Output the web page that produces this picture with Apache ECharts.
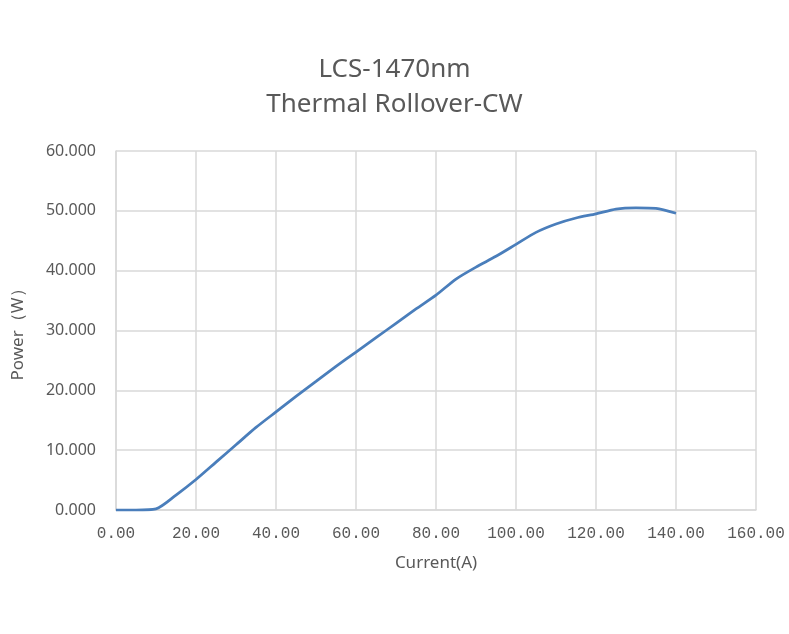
<!DOCTYPE html>
<html>
<head>
<meta charset="utf-8">
<title>LCS-1470nm Thermal Rollover-CW</title>
<script src="https://cdn.jsdelivr.net/npm/echarts@6/dist/echarts.min.js"></script>
<style>
    html, body { margin: 0; padding: 0; background: #fff; }
    #chart { width: 789px; height: 634px; }
</style>
</head>
<body>
<div id="chart"></div>
<script>
// 电流 (A)
var current = [0, 5, 10, 15, 20, 25, 30, 35, 40, 45, 50, 55, 60, 65, 70,
    75, 80, 85, 90, 95, 100, 105, 110, 115, 120, 125, 130, 135, 140];
// 功率 (W)
var power = [0, 0, 0.2, 2.5, 5.1, 8.0, 10.9, 13.8, 16.4, 19.0, 21.5, 24.0, 26.4, 28.8, 31.2,
    33.6, 35.9, 38.6, 40.6, 42.4, 44.4, 46.4, 47.8, 48.8, 49.5, 50.3, 50.5, 50.4, 49.6];

(function () {
    var data = current.map(function (c, i) {
        return [c, power[i]];
    });

    var textColor = '#595959';
    var gridColor = '#d9d9d9';

    var option = {
        backgroundColor: '#fff',
        animation: false,
        title: {
            text: 'LCS-1470nm\nThermal Rollover-CW',
            left: 'center',
            top: 47,
            textStyle: {
                fontFamily: 'Noto Sans',
                fontSize: 26,
                fontWeight: 'normal',
                color: textColor,
                lineHeight: 35
            }
        },
        grid: {
            left: 116,
            right: 33,
            top: 151,
            bottom: 124
        },
        xAxis: {
            type: 'value',
            min: 0,
            max: 160,
            interval: 20,
            name: 'Current(A)',
            nameLocation: 'middle',
            nameGap: 45,
            nameTextStyle: {
                fontFamily: 'Noto Sans',
                fontSize: 17,
                color: textColor
            },
            axisLine: { show: true, lineStyle: { color: gridColor, width: 1.5 } },
            axisTick: { show: false },
            splitLine: { show: true, lineStyle: { color: gridColor, width: 1.5 } },
            axisLabel: {
                margin: 16,
                fontFamily: 'Liberation Mono',
                fontSize: 16,
                color: textColor,
                formatter: function (v) { return v.toFixed(2); }
            }
        },
        yAxis: {
            type: 'value',
            min: 0,
            max: 60,
            interval: 10,
            name: 'Power（W）',
            nameLocation: 'middle',
            nameGap: 89,
            nameTextStyle: {
                fontFamily: 'Noto Sans',
                fontSize: 17,
                color: textColor
            },
            axisLine: { show: true, lineStyle: { color: gridColor, width: 1.5 } },
            axisTick: { show: false },
            splitLine: { show: true, lineStyle: { color: gridColor, width: 1.5 } },
            axisLabel: {
                margin: 20,
                fontFamily: 'Noto Sans',
                fontSize: 16,
                color: textColor,
                formatter: function (v) { return v.toFixed(3); }
            }
        },
        series: [
            {
                name: 'Power',
                type: 'line',
                data: data,
                smooth: 0.25,
                showSymbol: false,
                lineStyle: { color: '#4a7ebb', width: 2.75 }
            }
        ]
    };

    var myChart = echarts.init(document.getElementById('chart'));
    myChart.setOption(option);
})();
</script>
</body>
</html>
